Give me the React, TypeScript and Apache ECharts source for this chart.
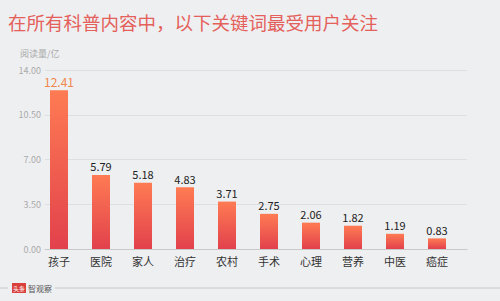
import React, { useEffect, useRef } from "react";
import * as echarts from "echarts";

const categories = ["孩子", "医院", "家人", "治疗", "农村", "手术", "心理", "营养", "中医", "癌症"];
const values = [12.41, 5.79, 5.18, 4.83, 3.71, 2.75, 2.06, 1.82, 1.19, 0.83];
const titleText = "在所有科普内容中，以下关键词最受用户关注";
const yAxisName = "阅读量/亿";

export default function App() {
  const ref = useRef<HTMLDivElement>(null);
  useEffect(() => {
    if (!ref.current) return;
    const chart = echarts.init(ref.current, null, { renderer: "svg" });
    const font = "'Noto Sans CJK SC', 'Noto Sans', sans-serif";
    const grad = new echarts.graphic.LinearGradient(0, 0, 0, 1, [
      { offset: 0, color: "#fe7b53" },
      { offset: 1, color: "#e2414c" },
    ]);
    chart.setOption({
      animation: false,
      backgroundColor: "#eeeff1",
      textStyle: { fontFamily: font },
      grid: [
        { left: 45, width: 422, top: 70, height: 179 },
        { left: 38, width: 420, top: 70, height: 179 },
      ],
      xAxis: [
        {
          gridIndex: 0,
          type: "value",
          min: 0,
          max: 1,
          axisLine: { show: true, lineStyle: { color: "#c8c8c8" } },
          axisTick: { show: false },
          axisLabel: { show: false },
          splitLine: { show: false },
        },
        {
          gridIndex: 1,
          type: "category",
          data: categories,
          axisLine: { show: false },
          axisTick: { show: false },
          axisLabel: { color: "#333", fontSize: 11, margin: 6, fontFamily: font },
        },
      ],
      yAxis: [
        {
          gridIndex: 0,
          type: "value",
          min: 0,
          max: 14,
          interval: 3.5,
          axisLine: { show: false },
          axisTick: { show: false },
          axisLabel: {
            color: "#aaa",
            fontSize: 9,
            margin: 4,
            formatter: (v: number) => v.toFixed(2),
          },
          splitLine: { lineStyle: { color: "#dedfe1" } },
        },
        {
          gridIndex: 1,
          type: "value",
          min: 0,
          max: 14,
          interval: 3.5,
          show: false,
          splitLine: { show: false },
        },
      ],
      series: [
        {
          type: "bar",
          xAxisIndex: 1,
          yAxisIndex: 1,
          barWidth: 18,
          data: values.map((v, i) => ({
            value: v,
            label:
              i === 0
                ? { color: "#f0874c", fontSize: 12 }
                : undefined,
          })),
          itemStyle: { color: grad },
          label: {
            show: true,
            position: "top",
            distance: 3,
            color: "#222",
            fontSize: 11,
            fontFamily: font,
            formatter: (p: any) => Number(p.value).toFixed(2),
          },
        },
      ],
      graphic: [
        {
          type: "text",
          left: 8,
          top: 13,
          style: { text: titleText, fill: "#e4605a", fontSize: 18.5, fontFamily: font },
        },
        {
          type: "text",
          left: 20,
          top: 49,
          style: { text: yAxisName, fill: "#aaa", fontSize: 9, fontFamily: font },
        },
        {
          type: "line",
          shape: { x1: 0, y1: 288, x2: 8, y2: 288 },
          style: { stroke: "#c8c8c8", lineWidth: 1 },
        },
        {
          type: "line",
          shape: { x1: 55, y1: 288, x2: 500, y2: 288 },
          style: { stroke: "#c8c8c8", lineWidth: 1 },
        },
        {
          type: "rect",
          shape: { x: 12, y: 283, width: 14, height: 10 },
          style: { fill: "#d9403c" },
        },
        {
          type: "text",
          x: 19,
          y: 288,
          style: {
            text: "头条",
            fill: "#fff",
            fontSize: 6,
            align: "center",
            verticalAlign: "middle",
            fontFamily: font,
          },
        },
        {
          type: "text",
          x: 28,
          y: 288,
          style: {
            text: "智观察",
            fill: "#555",
            fontSize: 8,
            verticalAlign: "middle",
            fontFamily: font,
          },
        },
      ],
    });
    return () => chart.dispose();
  }, []);
  return (
    <div
      ref={ref}
      style={{ position: "absolute", left: 0, top: 0, width: 500, height: 301 }}
    />
  );
}
